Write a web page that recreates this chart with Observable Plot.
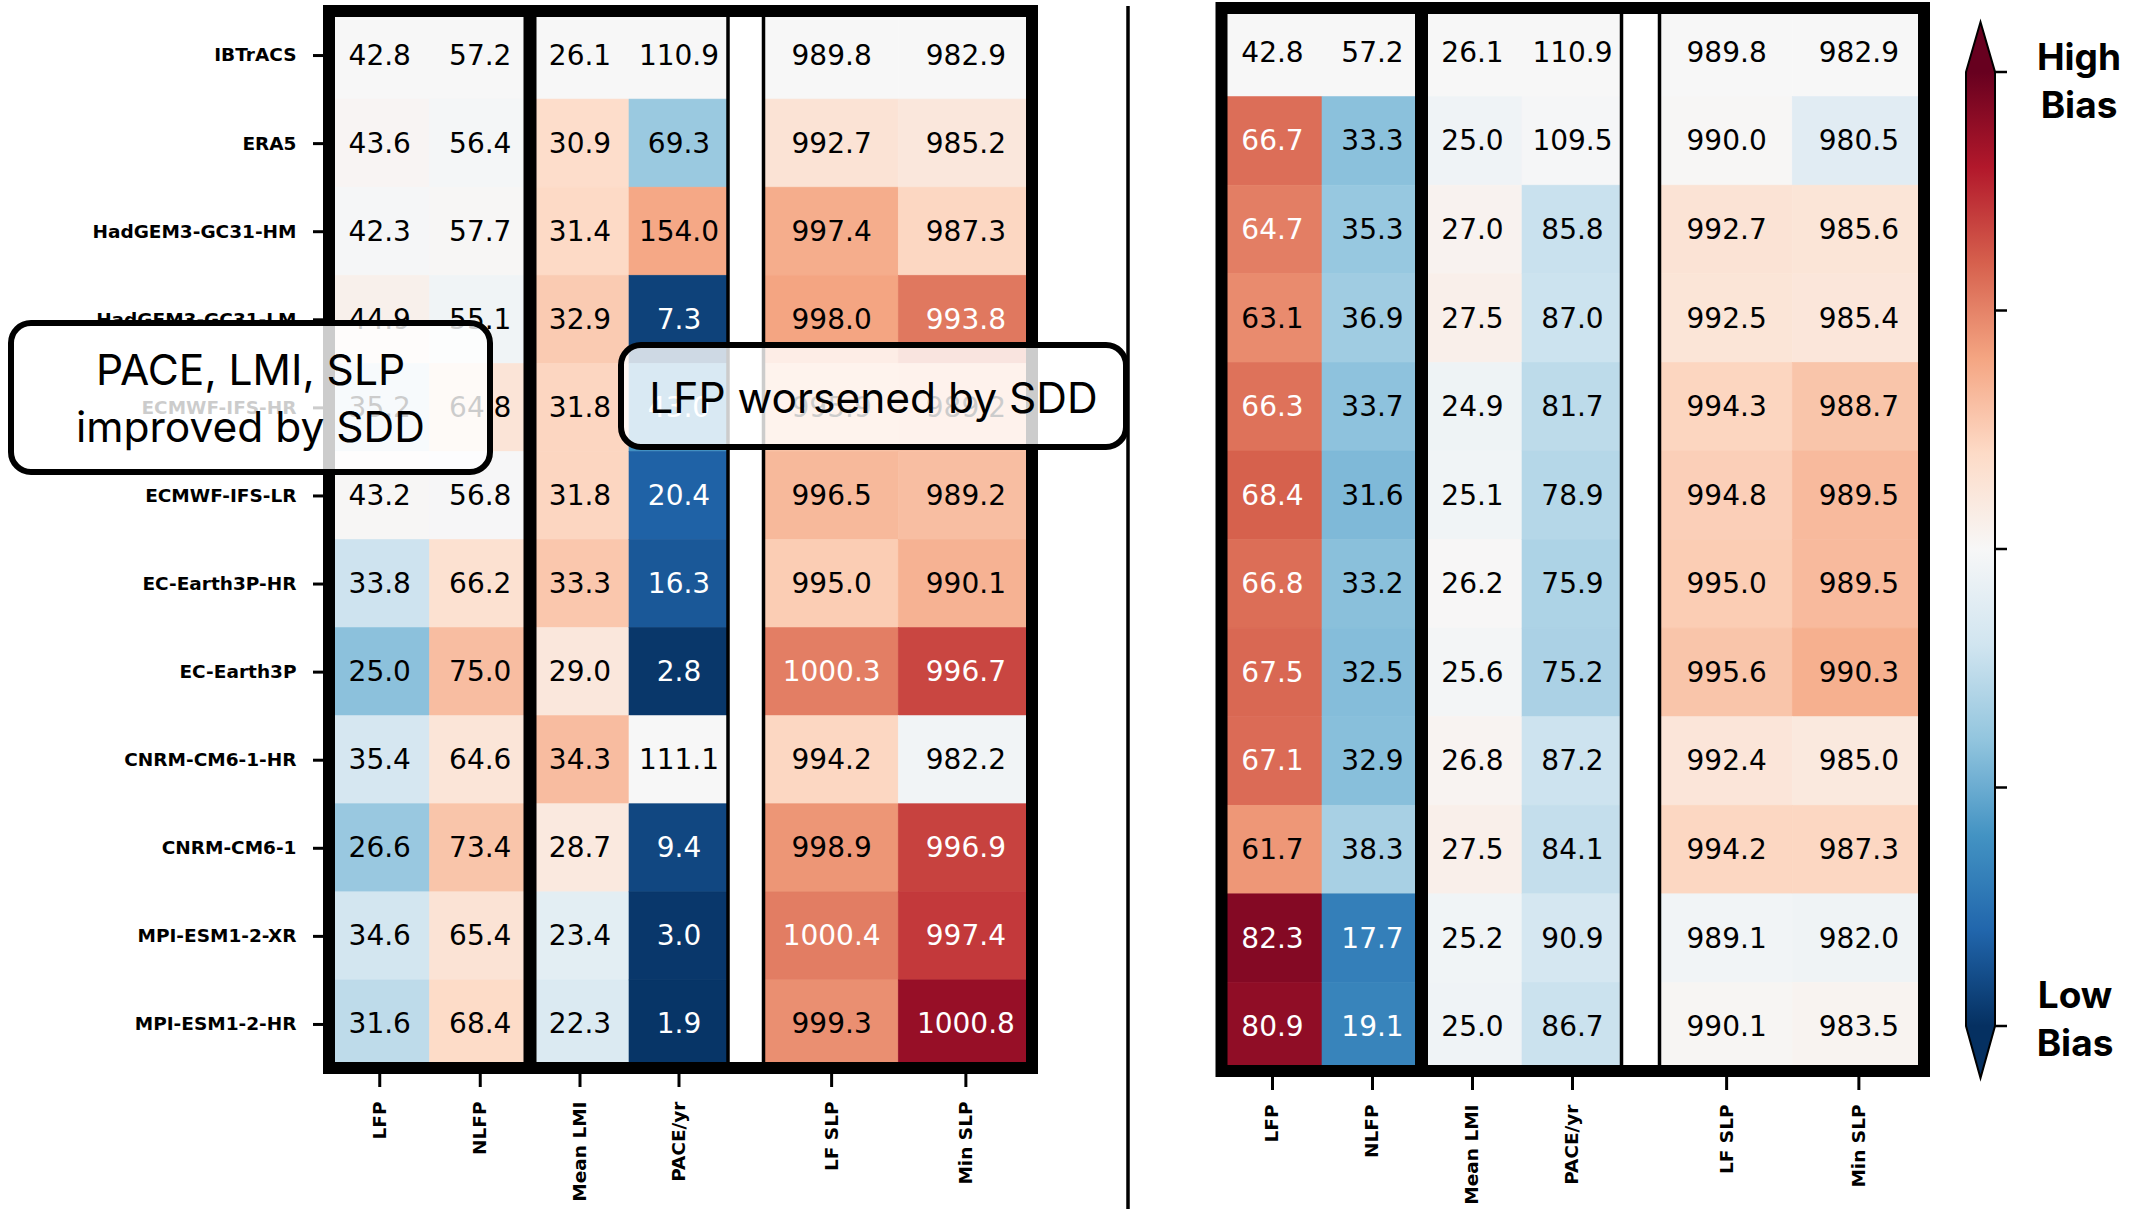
<!DOCTYPE html>
<html>
<head>
<meta charset="utf-8">
<script src="https://cdn.jsdelivr.net/npm/d3@7"></script>
<script src="https://cdn.jsdelivr.net/npm/@observablehq/plot@0.6"></script>
<style>
  html, body { margin: 0; padding: 0; background: #fff; }
  #root { position: relative; width: 2139px; height: 1209px; overflow: hidden; background: #fff; }
  #root > svg { position: absolute; }
</style>
</head>
<body>
<div id="root"></div>
<script>
// ---------------- data ----------------
const models = ["IBTrACS", "ERA5", "HadGEM3-GC31-HM", "HadGEM3-GC31-LM", "ECMWF-IFS-HR", "ECMWF-IFS-LR",
  "EC-Earth3P-HR", "EC-Earth3P", "CNRM-CM6-1-HR", "CNRM-CM6-1", "MPI-ESM1-2-XR", "MPI-ESM1-2-HR"];
const metrics = ["LFP", "NLFP", "Mean LMI", "PACE/yr", "LF SLP", "Min SLP"];
const metricGroups = [["LFP", "NLFP"], ["Mean LMI", "PACE/yr"], ["LF SLP", "Min SLP"]];

// left panel
const leftLFP     = [42.8, 43.6, 42.3, 44.9, 35.2, 43.2, 33.8, 25.0, 35.4, 26.6, 34.6, 31.6];
const leftNLFP    = [57.2, 56.4, 57.7, 55.1, 64.8, 56.8, 66.2, 75.0, 64.6, 73.4, 65.4, 68.4];
const leftMeanLMI = [26.1, 30.9, 31.4, 32.9, 31.8, 31.8, 33.3, 29.0, 34.3, 28.7, 23.4, 22.3];
const leftPACE    = [110.9, 69.3, 154.0, 7.3, 43.0, 20.4, 16.3, 2.8, 111.1, 9.4, 3.0, 1.9];
const leftLFSLP   = [989.8, 992.7, 997.4, 998.0, 995.9, 996.5, 995.0, 1000.3, 994.2, 998.9, 1000.4, 999.3];
const leftMinSLP  = [982.9, 985.2, 987.3, 993.8, 989.2, 989.2, 990.1, 996.7, 982.2, 996.9, 997.4, 1000.8];

// right panel
const rightLFP     = [42.8, 66.7, 64.7, 63.1, 66.3, 68.4, 66.8, 67.5, 67.1, 61.7, 82.3, 80.9];
const rightNLFP    = [57.2, 33.3, 35.3, 36.9, 33.7, 31.6, 33.2, 32.5, 32.9, 38.3, 17.7, 19.1];
const rightMeanLMI = [26.1, 25.0, 27.0, 27.5, 24.9, 25.1, 26.2, 25.6, 26.8, 27.5, 25.2, 25.0];
const rightPACE    = [110.9, 109.5, 85.8, 87.0, 81.7, 78.9, 75.9, 75.2, 87.2, 84.1, 90.9, 86.7];
const rightLFSLP   = [989.8, 990.0, 992.7, 992.5, 994.3, 994.8, 995.0, 995.6, 992.4, 994.2, 989.1, 990.1];
const rightMinSLP  = [982.9, 980.5, 985.6, 985.4, 988.7, 989.5, 989.5, 990.3, 985.0, 987.3, 982.0, 983.5];

// bias (relative to IBTrACS, first row) that maps to the ends of the colour bar, per metric
const biasFullScale = [42.8, 57.2, 26.1, 110.9, 20.5, 20.5];

const annotationLeft = ["PACE, LMI, SLP", "improved by SDD"];
const annotationRight = ["LFP worsened by SDD"];
const colorbarLabelsTop = ["High", "Bias"];
const colorbarLabelsBottom = ["Low", "Bias"];

// ---------------- helpers ----------------
const W = 2139, H = 1209;
const rdbuR = d3.piecewise(d3.interpolateRgb, ["#053061", "#2166ac", "#4393c3", "#92c5de", "#d1e5f0",
  "#f7f7f7", "#fddbc7", "#f4a582", "#d6604d", "#b2182b", "#67001f"]);

function isDark(b) {
  const t = (Math.max(-1, Math.min(1, b)) + 1) / 2;
  const c = d3.rgb(rdbuR(t));
  const lin = x => { x /= 255; return x <= 0.03928 ? x / 12.92 : Math.pow((x + 0.055) / 1.055, 2.4); };
  const L = 0.2126 * lin(c.r) + 0.7152 * lin(c.g) + 0.0722 * lin(c.b);
  return L <= 0.345;
}

function buildTable(columns) {
  return columns.flatMap(([metric, vals]) => {
    const j = metrics.indexOf(metric);
    const ref = vals[0];
    return vals.map((v, i) => ({model: models[i], metric, value: v, bias: (v - ref) / biasFullScale[j]}));
  });
}

const leftTable = buildTable([["LFP", leftLFP], ["NLFP", leftNLFP], ["Mean LMI", leftMeanLMI],
  ["PACE/yr", leftPACE], ["LF SLP", leftLFSLP], ["Min SLP", leftMinSLP]]);
const rightTable = buildTable([["LFP", rightLFP], ["NLFP", rightNLFP], ["Mean LMI", rightMeanLMI],
  ["PACE/yr", rightPACE], ["LF SLP", rightLFSLP], ["Min SLP", rightMinSLP]]);

const root = document.getElementById("root");

function groupPlot(table, cols, box, yAxis) {
  const data = table.filter(d => cols.includes(d.metric));
  const svgLeft = yAxis ? 0 : box.left;
  const textOpts = {x: "metric", y: "model", text: d => d.value.toFixed(1), fontSize: 28,
    fontFamily: "DejaVu Sans", fontWeight: "normal"};
  const axisFont = {fontSize: 18.5, fontWeight: "bold", fontFamily: "DejaVu Sans"};
  const plot = Plot.plot({
    width: box.right - svgLeft,
    height: H,
    marginLeft: box.left - svgLeft,
    marginRight: 0,
    marginTop: box.top,
    marginBottom: H - box.bottom,
    x: {domain: cols, padding: 0, round: false},
    y: yAxis ? {domain: models, padding: 0, round: false} : {domain: models, padding: 0, round: false, axis: null},
    color: {type: "linear", domain: [-1, 1], interpolate: rdbuR, clamp: true},
    style: {fontFamily: "DejaVu Sans", background: "transparent", overflow: "visible", color: "#000"},
    marks: [
      Plot.cell(data, {x: "metric", y: "model", fill: "bias", stroke: "bias", strokeWidth: 0.6}),
      Plot.text(data.filter(d => isDark(d.bias)), {...textOpts, fill: "white"}),
      Plot.text(data.filter(d => !isDark(d.bias)), {...textOpts, fill: "black"}),
      Plot.axisX({anchor: "bottom", tickRotate: -90, tickSize: 19, tickPadding: 14, strokeWidth: 3, label: null, ...axisFont}),
      yAxis ? Plot.axisY({anchor: "left", tickSize: 16, tickPadding: 17, strokeWidth: 3, label: null, ...axisFont}) : null
    ]
  });
  plot.style.position = "absolute";
  plot.style.left = svgLeft + "px";
  plot.style.top = "0px";
  root.appendChild(plot);
}

// panel geometry (layout)
const panels = [
  {table: leftTable, top: 11, bottom: 1068, xs: [329, 530, 728, 763.5, 1032], yAxis: true},
  {table: rightTable, top: 8, bottom: 1071, xs: [1221.5, 1421.5, 1621.5, 1659.5, 1924], yAxis: false}
];

for (const p of panels) {
  const [a, b, c, d, e] = p.xs;
  groupPlot(p.table, metricGroups[0], {left: a, right: b, top: p.top, bottom: p.bottom}, p.yAxis);
  groupPlot(p.table, metricGroups[1], {left: b, right: c, top: p.top, bottom: p.bottom}, false);
  groupPlot(p.table, metricGroups[2], {left: d, right: e, top: p.top, bottom: p.bottom}, false);
}

// ---------------- overlay: frames, separator, colour bar, notes ----------------
const svg = d3.create("svg").attr("width", W).attr("height", H)
  .style("left", "0px").style("top", "0px").style("overflow", "visible");

for (const p of panels) {
  const [a, b, c, d, e] = p.xs;
  const g = svg.append("g").attr("stroke", "#000").attr("fill", "none");
  g.append("line").attr("x1", c).attr("x2", c).attr("y1", p.top).attr("y2", p.bottom).attr("stroke-width", 3.5);
  g.append("line").attr("x1", d).attr("x2", d).attr("y1", p.top).attr("y2", p.bottom).attr("stroke-width", 3.5);
  g.append("line").attr("x1", b).attr("x2", b).attr("y1", p.top).attr("y2", p.bottom).attr("stroke-width", 13);
  g.append("rect").attr("x", a).attr("y", p.top).attr("width", e - a).attr("height", p.bottom - p.top)
    .attr("stroke-width", 12).attr("stroke-linejoin", "miter");
}

// separator between the two panels
svg.append("line").attr("x1", 1128).attr("x2", 1128).attr("y1", 6).attr("y2", H)
  .attr("stroke", "#000").attr("stroke-width", 3.5);

// colour bar
const cb = {x0: 1966, x1: 1995, yTop: 72, yBot: 1026, ext: 50};
const cbScale = d3.scaleLinear().domain([-1, 1]).range([cb.yBot, cb.yTop]);
const defs = svg.append("defs");
const grad = defs.append("linearGradient").attr("id", "cbgrad")
  .attr("x1", 0).attr("x2", 0).attr("y1", 1).attr("y2", 0);
d3.range(0, 1.0001, 0.05).forEach(t => grad.append("stop").attr("offset", t).attr("stop-color", rdbuR(t)));
svg.append("rect").attr("x", cb.x0).attr("y", cb.yTop).attr("width", cb.x1 - cb.x0).attr("height", cb.yBot - cb.yTop)
  .attr("fill", "url(#cbgrad)");
const xm = (cb.x0 + cb.x1) / 2;
svg.append("path").attr("d", `M${cb.x0},${cb.yTop}L${xm},${cb.yTop - cb.ext}L${cb.x1},${cb.yTop}Z`).attr("fill", rdbuR(1));
svg.append("path").attr("d", `M${cb.x0},${cb.yBot}L${xm},${cb.yBot + cb.ext + 2}L${cb.x1},${cb.yBot}Z`).attr("fill", rdbuR(0));
svg.append("path")
  .attr("d", `M${cb.x0},${cb.yTop}L${xm},${cb.yTop - cb.ext}L${cb.x1},${cb.yTop}L${cb.x1},${cb.yBot}L${xm},${cb.yBot + cb.ext + 2}L${cb.x0},${cb.yBot}Z`)
  .attr("fill", "none").attr("stroke", "#000").attr("stroke-width", 2).attr("stroke-linejoin", "miter");
svg.append("g").selectAll("line").data(cbScale.ticks(4)).join("line")
  .attr("x1", cb.x1).attr("x2", cb.x1 + 12).attr("y1", d => cbScale(d)).attr("y2", d => cbScale(d))
  .attr("stroke", "#000").attr("stroke-width", 2.5);

const cbText = (lines, x, y0) => {
  const t = svg.append("text").attr("font-family", "Inter, 'Noto Sans', sans-serif").attr("font-weight", 700)
    .attr("font-size", 37).attr("text-anchor", "middle").attr("fill", "#000");
  lines.forEach((s, i) => t.append("tspan").attr("x", x).attr("y", y0 + i * 48).text(s));
};
cbText(colorbarLabelsTop, 2079, 70);
cbText(colorbarLabelsBottom, 2075, 1008);

// annotation boxes
function noteBox(lines, x, y, w, h, baseline0, lineGap) {
  svg.append("rect").attr("x", x).attr("y", y).attr("width", w).attr("height", h).attr("rx", 20).attr("ry", 20)
    .attr("fill", "#fff").attr("fill-opacity", 0.8).attr("stroke", "#000").attr("stroke-width", 6);
  const t = svg.append("text").attr("font-family", "Inter, 'Noto Sans', sans-serif").attr("font-size", 42.5)
    .attr("text-anchor", "middle").attr("fill", "#000");
  lines.forEach((s, i) => t.append("tspan").attr("x", x + w / 2).attr("y", baseline0 + i * lineGap).text(s));
}
noteBox(annotationLeft, 11, 323, 479, 149, 385, 57);
noteBox(annotationRight, 621, 345, 505, 102, 413, 0);

root.appendChild(svg.node());
</script>
</body>
</html>
